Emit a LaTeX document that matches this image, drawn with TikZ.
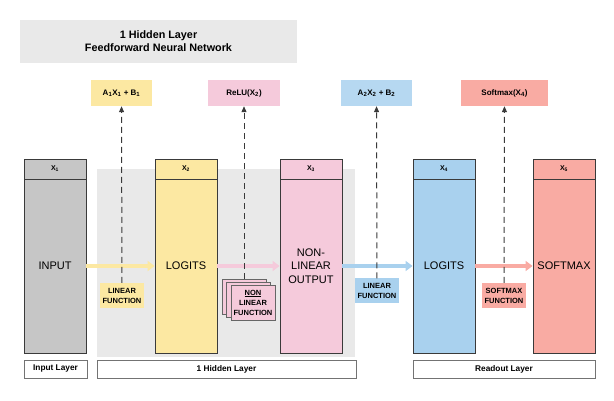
\documentclass[tikz,border=0pt]{standalone}
\usepackage{fontspec}
\setmainfont{Liberation Sans}
\usetikzlibrary{arrows.meta, positioning, backgrounds}

\definecolor{cgrey}{HTML}{C6C6C6}
\definecolor{cyellow}{HTML}{FCE8A2}
\definecolor{cpink}{HTML}{F5CADB}
\definecolor{cblue}{HTML}{A9D1EE}
\definecolor{csalmon}{HTML}{F9ABA3}
\definecolor{cpanel}{HTML}{E9E9E9}
\definecolor{cedge}{HTML}{3A3A3A}

\begin{document}
\begin{tikzpicture}[
    x=1pt, y=-1pt,
    c/.style={rectangle, draw=cedge, line width=0.9pt, minimum width=62pt, minimum height=174pt, inner sep=0pt, font=\fontsize{11}{13.5}\selectfont, align=center},
    h/.style={rectangle, draw=cedge, line width=0.9pt, minimum width=62pt, minimum height=20pt, inner sep=0pt, font=\fontsize{7}{8}\selectfont\bfseries},
    f/.style={rectangle, minimum height=26pt, inner sep=0pt, font=\fontsize{8}{9}\selectfont\bfseries},
    l/.style={rectangle, minimum width=44pt, minimum height=25pt, inner sep=0pt, font=\fontsize{7.5}{10}\selectfont\bfseries, align=center},
    g/.style={rectangle, draw=black!55, line width=1pt, minimum height=18pt, inner sep=0pt, fill=white, font=\fontsize{8.3}{9}\selectfont\bfseries},
    a/.style={-{Triangle[length=7pt, width=10pt]}, line width=3.5pt},
    d/.style={-{Triangle[length=6pt, width=5pt]}, dash pattern=on 6pt off 4pt, draw=cedge, line width=1pt},
]
\useasboundingbox (0,0) rectangle (614,401);

% Title
\node[rectangle, fill=cpanel, minimum width=277pt, minimum height=43pt, align=center, font=\fontsize{10.8}{13}\selectfont\bfseries] (title) at (158.5,41.5) {1 Hidden Layer\\Feedforward Neural Network};

% Hidden panel
\begin{scope}[on background layer]
    \node[rectangle, fill=cpanel, minimum width=258pt, minimum height=188pt] (panel) at (226,263) {};
\end{scope}

% Columns
\node[c, fill=cgrey] (in) at (55,266) {INPUT};
\node[h, fill=cgrey] (x1) at (55,169) {X\textsubscript{1}};
\node[c, fill=cyellow] (lg1) at (186,266) {LOGITS};
\node[h, fill=cyellow] (x2) at (186,169) {X\textsubscript{2}};
\node[c, fill=cpink] (nlo) at (311,266) {NON-\\LINEAR\\OUTPUT};
\node[h, fill=cpink] (x3) at (311,169) {X\textsubscript{3}};
\node[c, fill=cblue] (lg2) at (444,266) {LOGITS};
\node[h, fill=cblue] (x4) at (444,169) {X\textsubscript{4}};
\node[c, fill=csalmon] (sm) at (564,266) {SOFTMAX};
\node[h, fill=csalmon] (x5) at (564,169) {X\textsubscript{5}};

% Formulas
\node[f, fill=cyellow, minimum width=61pt] (fy) at (121.5,93) {A\textsubscript{1}X\textsubscript{1} + B\textsubscript{1}};
\node[f, fill=cpink, minimum width=72pt] (fp) at (244,93) {ReLU(X\textsubscript{2})};
\node[f, fill=cblue!85!white, minimum width=71pt] (fb) at (376.5,93) {A\textsubscript{2}X\textsubscript{2} + B\textsubscript{2}};
\node[f, fill=csalmon, minimum width=87pt] (fs) at (504.5,93) {Softmax(X\textsubscript{4})};

% Arrows
\draw[a, cyellow] (in) -- (lg1);
\draw[a, cpink] (lg1) -- (nlo);
\draw[a, cblue] (nlo) -- (lg2);
\draw[a, csalmon] (lg2) -- (sm);

% Functions
\node[l, fill=cyellow] (ly) at (122,295.5) {LINEAR\\FUNCTION};
\node[l, fill=cpink, draw=black!60, minimum height=35pt] (nl3) at (244,296.5) {};
\node[l, fill=cpink, draw=black!60, minimum height=35pt] (nl2) at (248.5,299.5) {};
\node[l, fill=cpink, draw=black!60, minimum height=35pt] (nl) at (253,302.5) {\underline{NON}\\LINEAR\\FUNCTION};
\node[l, fill=cblue] (lb) at (377,291) {LINEAR\\FUNCTION};
\node[l, fill=csalmon] (ls) at (504,295.5) {SOFTMAX\\FUNCTION};

\draw[d] (ly) -- (fy);
\draw[d] (nl3) -- (fp);
\draw[d] (lb) -- (fb);
\draw[d] (ls) -- (fs);

% Layers
\node[g, minimum width=63pt] (gin) at (55.5,369) {Input Layer};
\node[g, minimum width=259pt] (ghid) at (226.5,369) {1 Hidden Layer};
\node[g, minimum width=182pt] (gout) at (504,369) {Readout Layer};
\end{tikzpicture}
\end{document}
